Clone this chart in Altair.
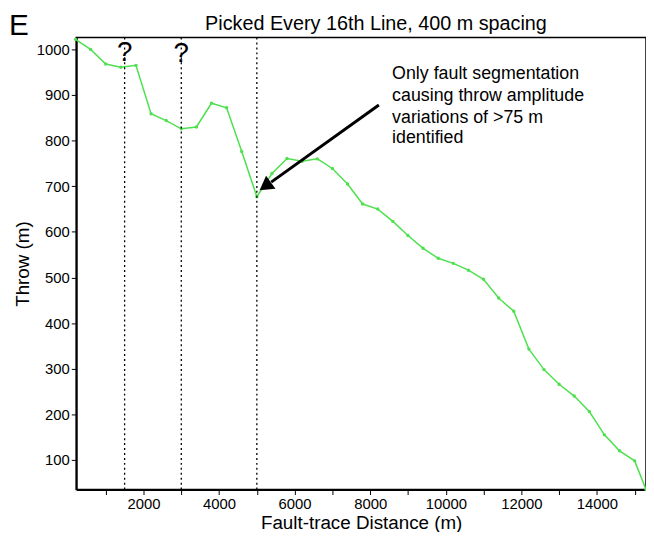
import altair as alt
import pandas as pd

# fault-trace distance (m) and throw (m)
DIST = [200, 600, 1000, 1400, 1800, 2200, 2600, 3000, 3400, 3800, 4200, 4600, 5000,
        5400, 5800, 6200, 6600, 7000, 7400, 7800, 8200, 8600, 9000, 9400, 9800,
        10200, 10600, 11000, 11400, 11800, 12200, 12600, 13000, 13400, 13800,
        14200, 14600, 15000, 15300]
THROW = [1022, 1000, 968, 961, 965, 859, 844, 826, 830, 882, 872, 776, 677,
         728, 761, 755, 760, 739, 705, 661, 650, 623, 592, 564, 542,
         531, 516, 496, 455, 426, 343, 298, 266, 240, 206,
         155, 120, 98, 35]

SEGMENT_X = [1500, 3000, 5000]
NOTE_LINES = ['Only fault segmentation', 'causing throw amplitude',
              'variations of >75 m', 'identified']
NOTE_Y = [945, 898, 850, 805]
TITLE = 'Picked Every 16th Line, 400 m spacing'

FONT = 'Liberation Sans'
XDOM = [220, 15300]
YDOM = [35, 1026]

df = pd.DataFrame({'d': DIST, 't': THROW})
xs = alt.Scale(domain=XDOM, nice=False, zero=False)
ys = alt.Scale(domain=YDOM, nice=False, zero=False)

axis_style = dict(grid=False, labelFontSize=15, titleFontSize=19, titleFontWeight='normal',
                  labelColor='black', titleColor='black', domainColor='black',
                  tickColor='black', domainWidth=2, labelFont=FONT, titleFont=FONT)

line = alt.Chart(df).mark_line(color='#4fe04f', strokeWidth=1.5,
                               point=alt.OverlayMarkDef(color='#4fe04f', size=12)).encode(
    x=alt.X('d:Q', scale=xs, title='Fault-trace Distance (m)',
            axis=alt.Axis(values=list(range(1000, 16000, 1000)), titlePadding=2,
                          labelExpr="datum.value % 2000 ? '' : datum.value", **axis_style)),
    y=alt.Y('t:Q', scale=ys, title='Throw (m)',
            axis=alt.Axis(values=list(range(100, 1100, 100)), format='d', titlePadding=4,
                          **axis_style))
)

segs = alt.Chart(pd.DataFrame({'d': SEGMENT_X})).mark_rule(
    color='black', strokeDash=[2, 3], strokeWidth=1.3).encode(x=alt.X('d:Q', scale=xs))

qmarks = alt.Chart(pd.DataFrame({'d': SEGMENT_X[:2], 't': [993, 990], 'q': ['?', '?']})).mark_text(
    fontSize=28, font=FONT, color='black').encode(
    x=alt.X('d:Q', scale=xs), y=alt.Y('t:Q', scale=ys), text='q:N')

note = alt.Chart(pd.DataFrame({'d': [8580] * 4, 't': NOTE_Y, 's': NOTE_LINES})).mark_text(
    align='left', baseline='middle', fontSize=18, font=FONT, color='black').encode(
    x=alt.X('d:Q', scale=xs), y=alt.Y('t:Q', scale=ys), text='s:N')

arrow = alt.Chart(pd.DataFrame({'d': [8230], 't': [878], 'd2': [5380], 't2': [709]})).mark_rule(
    color='black', strokeWidth=3).encode(
    x=alt.X('d:Q', scale=xs), y=alt.Y('t:Q', scale=ys), x2='d2:Q', y2='t2:Q')

head = alt.Chart(pd.DataFrame({'d': [5270], 't': [703]})).mark_point(
    shape='triangle', filled=True, color='black', opacity=1, size=260, angle=234).encode(
    x=alt.X('d:Q', scale=xs), y=alt.Y('t:Q', scale=ys))

letter = alt.Chart(pd.DataFrame({'s': ['E']})).mark_text(
    fontSize=30, font=FONT, color='black', align='left', baseline='middle').encode(
    x=alt.value(-68), y=alt.value(-12), text='s:N')

title = alt.Chart(pd.DataFrame({'s': [TITLE]})).mark_text(
    fontSize=20, font=FONT, color='black', align='center', baseline='middle').encode(
    x=alt.value(303), y=alt.value(-14), text='s:N')

chart = alt.layer(line, segs, qmarks, note, arrow, head, letter, title).properties(
    width=576, height=457,
    autosize=alt.AutoSizeParams(type='none'),
    padding={'left': 69, 'top': 27, 'right': 0, 'bottom': 40}
).configure_view(stroke='black', strokeWidth=1.5)

chart.save("out.html", embed_options={"renderer": "svg", "actions": False})
